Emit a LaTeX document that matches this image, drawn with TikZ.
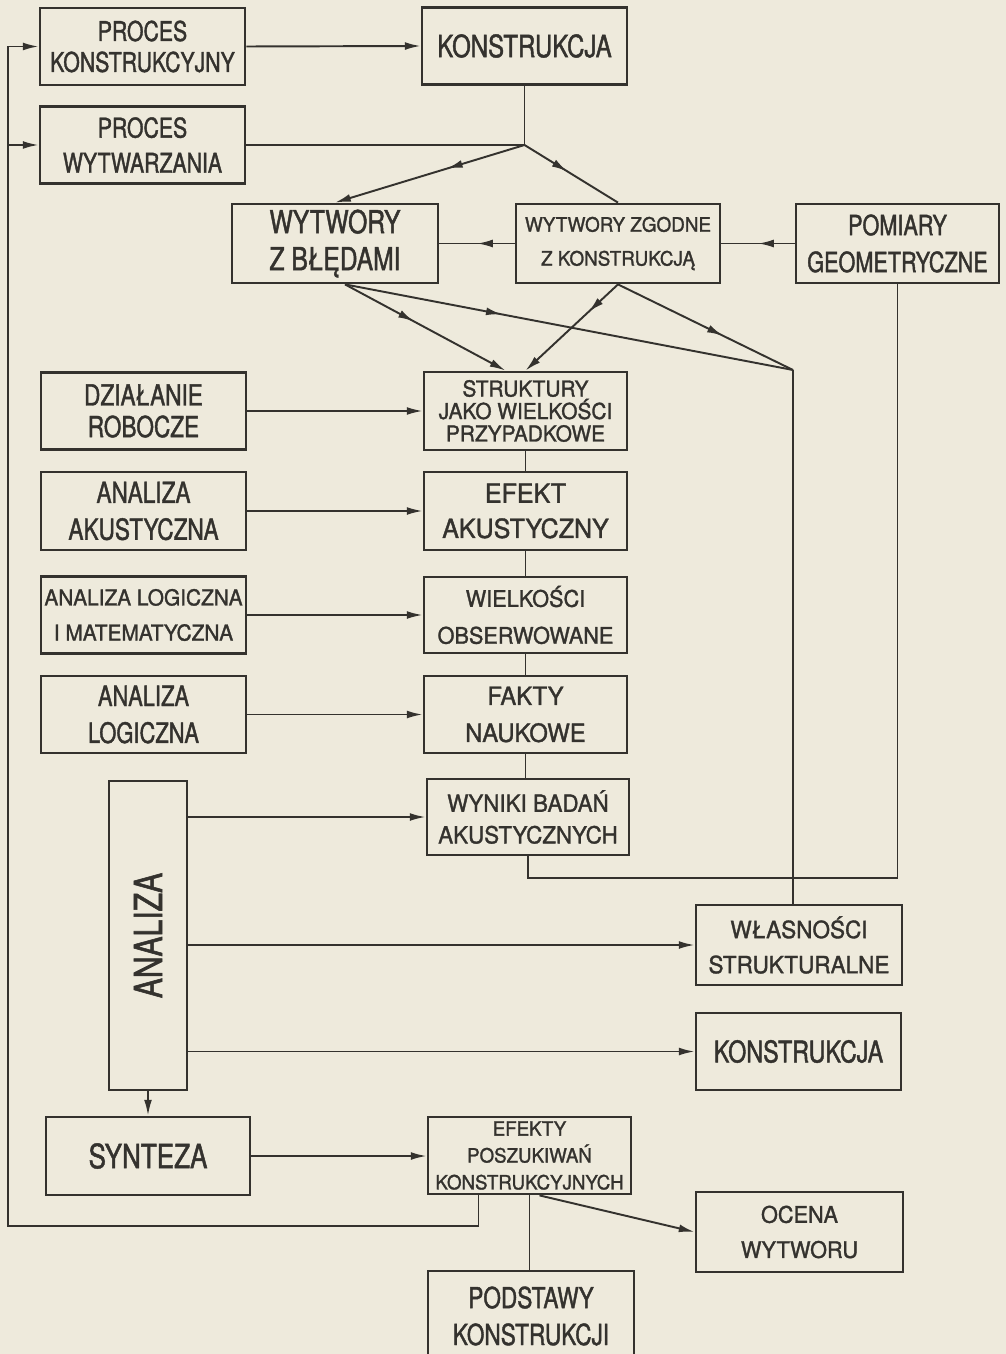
\documentclass[tikz,border=0pt]{standalone}
\usepackage{fontspec}
\usepackage{tikz}
\usetikzlibrary{arrows.meta, positioning, calc, decorations.markings}
\newfontfamily\narrowsf{TeX Gyre Heros}[FakeStretch=0.78, FakeBold=1.4]
\newfontfamily\widesf{TeX Gyre Heros}[FakeStretch=0.95, FakeBold=1.4]
\newcommand{\nfont}[2]{\narrowsf\fontsize{#1}{#2}\selectfont}
\newcommand{\wfont}[2]{\widesf\fontsize{#1}{#2}\selectfont}
\definecolor{paper}{RGB}{238,234,220}
\definecolor{ink}{RGB}{52,50,46}

\begin{document}
\begin{tikzpicture}[x=0.02cm, y=-0.02cm,
    box/.style={draw=ink, line width=1.6pt, fill=paper, text=ink, align=center,
      inner sep=0pt, minimum width=4.1cm, minimum height=1.54cm},
    conn/.style={draw=ink, line width=1.1pt},
    arr/.style={conn, -{Latex[length=9pt, width=4.5pt]}},
    midarr/.style={conn, postaction={decorate}, decoration={markings,
      mark=at position #1 with {\arrow{Latex[length=9pt, width=4.5pt]}}}}]

    % Paper
    \fill[paper] (0,0) rectangle (1006,1354);
    \useasboundingbox (0,0) rectangle (1006,1354);

    % Processes and products
    \node[box, font={\nfont{15.5}{17.6}}] (pk) at (142.5,46.5) {PROCES\\KONSTRUKCYJNY};
    \node[box, font={\nfont{17.5}{20}}] (k1) at (524.5,46) {KONSTRUKCJA};
    \node[box, font={\nfont{15.5}{20}}] (pw) at (142.5,145) {PROCES\\WYTWARZANIA};
    \node[box, minimum width=4.12cm, minimum height=1.58cm, font={\nfont{18}{21}}]
      (wb) at (335,243.5) {WYTWORY\\Z BŁĘDAMI};
    \node[box, minimum width=4.08cm, minimum height=1.58cm, font={\wfont{11.3}{19.3}}]
      (wz) at (618,243.5) {WYTWORY ZGODNE\\Z KONSTRUKCJĄ};
    \node[box, minimum width=4.06cm, minimum height=1.58cm, font={\nfont{15.8}{21}}]
      (pg) at (897.5,243.5) {POMIARY\\GEOMETRYCZNE};

    % Left column
    \node[box, font={\nfont{16.5}{18}}] (dr) at (143.5,411) {DZIAŁANIE\\ROBOCZE};
    \node[box, minimum height=1.56cm, font={\nfont{16.5}{21}}] (aa) at (143.5,511) {ANALIZA\\AKUSTYCZNA};
    \node[box, font={\wfont{12.5}{20}}] (alm) at (143.5,615) {ANALIZA LOGICZNA\\I MATEMATYCZNA};
    \node[box, font={\nfont{16}{21}}] (al) at (143.5,714.5) {ANALIZA\\LOGICZNA};

    % Centre column
    \node[box, minimum width=4.06cm, minimum height=1.56cm, font={\wfont{12.5}{12.8}}]
      (st) at (525.5,411) {STRUKTURY\\JAKO WIELKOŚCI\\PRZYPADKOWE};
    \node[box, minimum width=4.06cm, minimum height=1.56cm, font={\wfont{15}{20}}]
      (ea) at (525.5,511) {EFEKT\\AKUSTYCZNY};
    \node[box, minimum width=4.06cm, minimum height=1.52cm, font={\wfont{13}{21}}]
      (wo) at (525.5,615) {WIELKOŚCI\\OBSERWOWANE};
    \node[box, minimum width=4.06cm, font={\wfont{14.3}{21}}]
      (fn) at (525.5,714.5) {FAKTY\\NAUKOWE};
    \node[box, minimum width=4.04cm, minimum height=1.52cm, font={\wfont{13.4}{18}}]
      (wy) at (528,817) {WYNIKI BADAŃ\\AKUSTYCZNYCH};

    % Analysis and synthesis
    \node[box, minimum width=1.56cm, minimum height=6.18cm, font={\nfont{22}{24}}]
      (an) at (148,935.5) {\rotatebox{90}{ANALIZA}};
    \node[box, minimum width=4.08cm, minimum height=1.56cm, font={\nfont{19}{21}}]
      (sy) at (148,1156) {SYNTEZA};
    \node[box, minimum width=4.06cm, font={\wfont{11.2}{15.3}}]
      (ep) at (529.5,1155.5) {EFEKTY\\POSZUKIWAŃ\\KONSTRUKCYJNYCH};
    \node[box, minimum width=4.12cm, minimum height=1.8cm, font={\nfont{16.5}{21}}]
      (pd) at (531,1316) {PODSTAWY\\KONSTRUKCJI};

    % Right column
    \node[box, minimum width=4.12cm, minimum height=1.6cm, font={\wfont{13.5}{20}}]
      (ws) at (799,945) {WŁASNOŚCI\\STRUKTURALNE};
    \node[box, font={\nfont{17}{20}}] (k2) at (798.5,1051.5) {KONSTRUKCJA};
    \node[box, minimum width=4.14cm, minimum height=1.6cm, font={\wfont{13}{20}}]
      (oc) at (799.5,1232) {OCENA\\WYTWORU};

    % Junctions
    \coordinate (j1) at (k1.south |- pw.east);
    \coordinate (j2) at (793,370);
    \coordinate (j3) at (793,878);
    \coordinate (loop) at (8,1226);
    \coordinate (wbs) at ($(wb.south)+(10,0)$);

    % Top part
    \draw[arr] (pk.east) -- (k1.west);
    \draw[conn] (k1.south) -- (j1);
    \draw[conn] (pw.east) -- (j1);
    \draw[midarr=0.41, arr] (j1) -- (wb.north);
    \draw[midarr=0.46] (j1) -- (wz.north);
    \draw[midarr=0.5] (wz.west) -- (wb.east);
    \draw[midarr=0.5] (pg.west) -- (wz.east);

    % Products down to structures
    \draw[midarr=0.43, arr] (wbs) -- ($(st.north)+(-20,0)$);
    \draw[midarr=0.35] (wbs) -- (j2);
    \draw[midarr=0.32, arr] (wz.south) -- (st.north);
    \draw[midarr=0.6] (wz.south) -- (j2);
    \draw[conn] (j2) -- (j2 |- ws.north);
    \draw[conn] (pg.south) |- (j3);
    \draw[conn] (wy.south) |- (j3);

    % Left column into the centre column
    \foreach \a/\b in {dr/st, aa/ea, alm/wo, al/fn}
      \draw[arr] (\a.east) -- (\b.west);
    \foreach \a/\b in {st/ea, ea/wo, wo/fn, fn/wy}
      \draw[conn] (\a.south) -- (\a.south |- \b.north);

    % ANALIZA outputs
    \foreach \b in {wy, ws, k2}
      \draw[arr] (an.east |- \b.west) -- (\b.west);
    \draw[arr] (an.south) -- (sy.north);
    \draw[arr] (sy.east) -- (sy.east -| ep.west);
    \draw[arr] ($(ep.south)+(10,0)$) -- (oc.west);
    \draw[conn] (ep.south) -- (ep.south |- pd.north);

    % Feedback loop
    \draw[arr] ($(ep.south)+(-51,0)$) |- (loop) |- (pk.west);
    \draw[arr] (loop |- pw.west) -- (pw.west);
  \end{tikzpicture}
\end{document}
